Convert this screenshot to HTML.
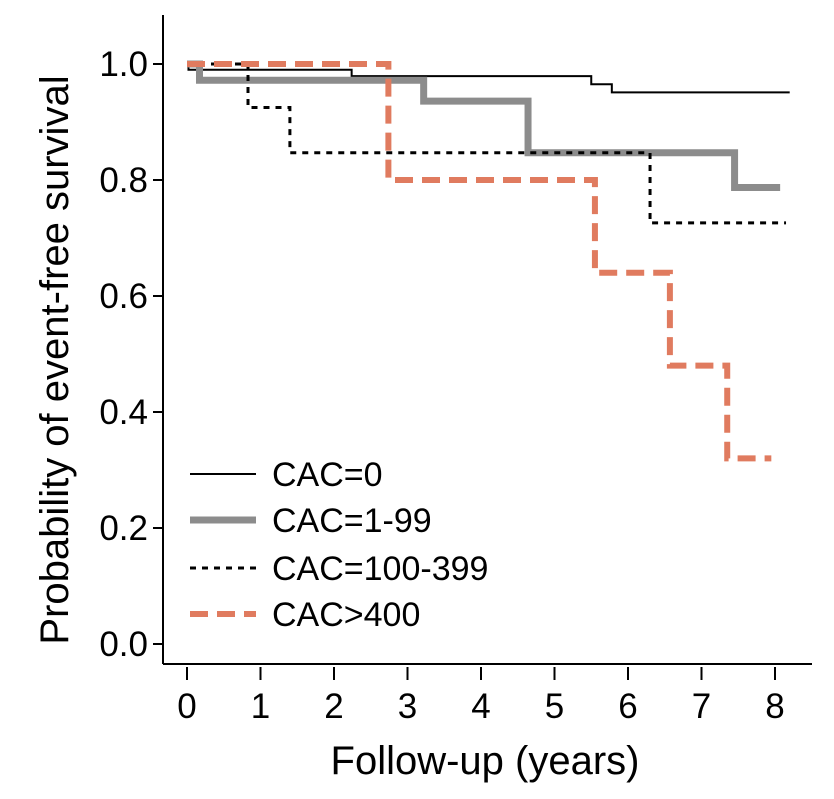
<!DOCTYPE html>
<html><head><meta charset="utf-8"><style>
body{margin:0;background:#fff}
svg text{font-family:"Liberation Sans",Arial,sans-serif;fill:#000}
</style></head><body>
<svg width="834" height="794" viewBox="0 0 834 794">
<g id="axes"></g>
<g id="series"></g>
<g id="legend"></g>
</svg>
<script>
const xTicks=[0,1,2,3,4,5,6,7,8];
const yTicks=[0.0,0.2,0.4,0.6,0.8,1.0];
const yTickLabels=["0.0","0.2","0.4","0.6","0.8","1.0"];
const seriesNames=["CAC=0","CAC=1-99","CAC=100-399","CAC>400"];
const cac0Times=[0,0.02,2.24,5.5,5.78,8.2];
const cac0Surv=[1.0,0.99,0.979,0.965,0.951,0.951];
const cac1Times=[0,0.17,3.22,4.64,7.45,8.07];
const cac1Surv=[1.0,0.972,0.936,0.847,0.787,0.787];
const cac100Times=[0,0.83,1.4,6.3,8.15];
const cac100Surv=[1.0,0.925,0.847,0.726,0.726];
const cac400Times=[0,2.74,5.55,6.57,7.35,7.95];
const cac400Surv=[1.0,0.8,0.64,0.48,0.32,0.32];

const X=t=>187+t*73.5;
const Y=v=>644-v*580;
const NS="http://www.w3.org/2000/svg";
function mk(tag,attrs,parent){const e=document.createElementNS(NS,tag);for(const k in attrs)e.setAttribute(k,attrs[k]);parent.appendChild(e);return e;}
const axes=document.getElementById('axes');
let e=mk('line',{x1:163,y1:15,x2:163,y2:664,stroke:'#000','stroke-width':2},axes);


e=mk('line',{x1:163,y1:664,x2:812,y2:664,stroke:'#000','stroke-width':2},axes);


xTicks.forEach((t)=>{
 const l=mk('line',{x1:X(t),y1:667,x2:X(t),y2:680,stroke:'#000','stroke-width':2},axes);
 
 
 const tx=mk('text',{x:X(t),y:718,'font-size':35,'text-anchor':'middle'},axes);tx.textContent=t;
 
 
});
yTicks.forEach((v,i)=>{
 const l=mk('line',{x1:153,y1:Y(v),x2:163,y2:Y(v),stroke:'#000','stroke-width':2},axes);
 
 
 const tx=mk('text',{x:148,y:Y(v)+12,'font-size':35,'text-anchor':'end'},axes);tx.textContent=yTickLabels[i];
 
 
});
e=mk('text',{x:485,y:774,'font-size':40,'text-anchor':'middle'},axes);e.textContent='Follow-up (years)';


e=mk('text',{x:0,y:0,'font-size':40,'text-anchor':'middle',transform:'translate(68,360) rotate(-90)'},axes);e.textContent='Probability of event-free survival';



const styles=[
 {stroke:'#000',w:2,dash:''},
 {stroke:'#8c8c8c',w:7,dash:''},
 {stroke:'#000',w:3,dash:'6 6'},
 {stroke:'#e07b5f',w:6,dash:'18 9'}];
const data=[[cac0Times,cac0Surv],[cac1Times,cac1Surv],[cac100Times,cac100Surv],[cac400Times,cac400Surv]];
const names=['curve-cac0','curve-cac1-99','curve-cac100-399','curve-cac400'];
const sg=document.getElementById('series');
data.forEach((d,k)=>{
 const [ts,ss]=d;let p='M'+X(ts[0])+','+Y(ss[0]);
 for(let i=1;i<ts.length;i++){p+=' H'+X(ts[i])+' V'+Y(ss[i]);}
 const s=styles[k];
 const pe=mk('path',{d:p,fill:'none',stroke:s.stroke,'stroke-width':s.w,'stroke-dasharray':s.dash},sg);
 
 
});
const lg=document.getElementById('legend');
const ly=[474,520,568,614];
seriesNames.forEach((n,k)=>{
 const s=styles[k];
 const l=mk('line',{x1:190,y1:ly[k],x2:256,y2:ly[k],stroke:s.stroke,'stroke-width':s.w,'stroke-dasharray':s.dash},lg);
 
 
 const t=mk('text',{x:272,y:ly[k]+12,'font-size':34},lg);t.textContent=n;
 
 
});
</script>
</body></html>
